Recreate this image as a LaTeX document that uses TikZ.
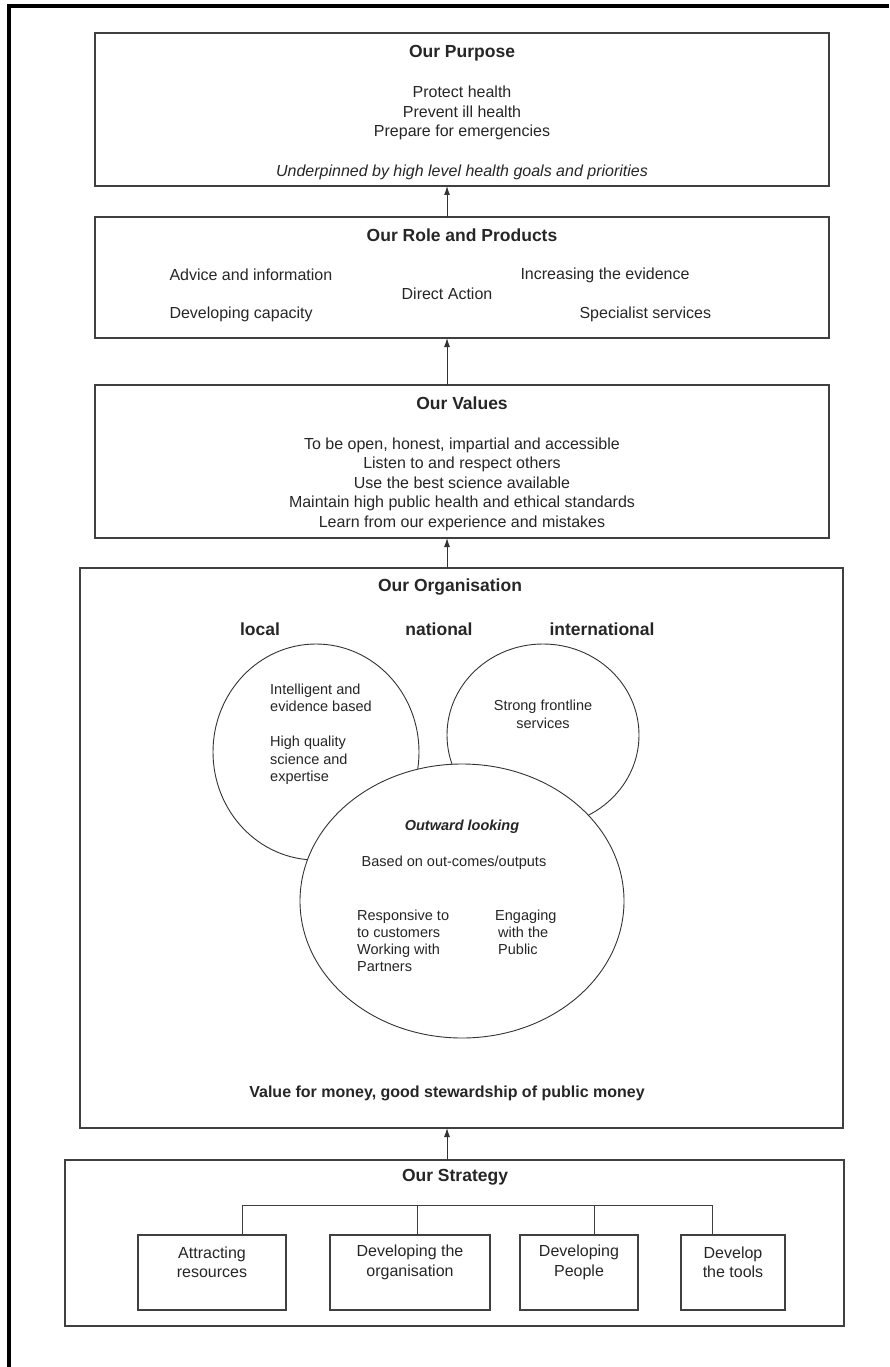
\documentclass[tikz,border=0pt]{standalone}
\usepackage{fontspec}
\setmainfont{Liberation Sans}
\usetikzlibrary{shapes.geometric,arrows.meta}

\tikzset{
  panel/.style={draw=black!75, line width=1.1pt, anchor=north west, inner sep=0pt, outer sep=0pt},
  head/.style={font=\fontsize{17.5}{20}\selectfont\bfseries, text=black!85},
  body/.style={font=\fontsize{16}{19.5}\selectfont, text=black!85, align=center},
  small/.style={font=\fontsize{14.5}{17.5}\selectfont, text=black!85, inner sep=0pt},
  blob/.style={ellipse, draw=black!80, line width=0.9pt, fill=white, inner sep=0pt},
  stratbox/.style={draw=black!75, line width=1.1pt, anchor=north west, inner sep=0pt, outer sep=0pt, minimum height=75pt}
}

\begin{document}
\begin{tikzpicture}[x=1pt, y=-1pt, >={Latex[length=9pt,width=6pt]}]
\useasboundingbox (0,0) rectangle (889,1367);
\draw[line width=4pt] (9,1367) -- (9,6) -- (889,6);

% purpose
\node (pur)[panel, minimum width=734pt, minimum height=153pt] at (95,33) {};
\node (pur1)[head] at (462,53) {Our Purpose};
\node (pur2)[body] at (462,113) {Protect health\\Prevent ill health\\Prepare for emergencies};
\node (pur3)[body, font=\fontsize{16}{19.5}\selectfont\itshape] at (462,172) {Underpinned by high level health goals and priorities};

% role and products
\node (role)[panel, minimum width=734pt, minimum height=121pt] at (95,217) {};
\node (role1)[head] at (462,235) {Our Role and Products};
\node (role2)[body, anchor=west] at (166,275) {Advice and information};
\node (role3)[body, anchor=west] at (517,275) {Increasing the evidence};
\node (role4)[body] at (447,294) {Direct Action};
\node (role5)[body, anchor=west] at (166,314) {Developing capacity};
\node (role6)[body, anchor=west] at (576,314) {Specialist services};

% values
\node (val)[panel, minimum width=734pt, minimum height=153pt] at (95,385) {};
\node (val1)[head] at (462,403) {Our Values};
\node (val2)[body] at (462,484) {To be open, honest, impartial and accessible\\Listen to and respect others\\Use the best science available\\Maintain high public health and ethical standards\\Learn from our experience and mistakes};

% organisation
\node (orgn)[panel, minimum width=763pt, minimum height=560pt] at (80,568) {};
\node (orgn1)[head] at (450,587) {Our Organisation};
\node (lvl1)[head] at (260,629) {local};
\node (lvl2)[head] at (439,629) {national};
\node (lvl3)[head] at (602,629) {international};
\node (loc)[blob, minimum width=206pt, minimum height=216pt] at (316,752) {};
\node (intl)[blob, minimum width=192pt, minimum height=182pt] at (543,735) {};
\node (out)[blob, minimum width=324pt, minimum height=274pt] at (462,901) {};
\node (loc1)[small, align=left, anchor=west] at (270,734) {Intelligent and\\evidence based\\[17.5pt]High quality\\science and\\expertise};
\node (intl1)[small, align=center] at (543,714.5) {Strong frontline\\services};
\node (out1)[small, font=\fontsize{14.5}{17.5}\selectfont\bfseries\itshape] at (462,827) {Outward looking};
\node (out2)[small] at (454,863) {Based on out-comes/outputs};
\node (out3)[small, align=left, anchor=west, font=\fontsize{14.5}{17}\selectfont] at (357,940.5) {Responsive to\\to customers\\Working with\\Partners};
\node (out4)[small, align=left, anchor=west, font=\fontsize{14.5}{17}\selectfont] at (495,932) {Engaging\\\hspace{3pt}with the\\\hspace{3pt}Public};
\node (orgn2)[head, font=\fontsize{16}{19}\selectfont\bfseries] at (447,1093) {Value for money, good stewardship of public money};

% strategy
\node (strat)[panel, minimum width=779pt, minimum height=166pt] at (65,1160) {};
\node (strat1)[head] at (455,1177) {Our Strategy};
\node (att)[stratbox, minimum width=148pt] at (138,1235) {};
\node (dvo)[stratbox, minimum width=160pt] at (330,1235) {};
\node (dvp)[stratbox, minimum width=118pt] at (520,1235) {};
\node (dvt)[stratbox, minimum width=104pt] at (681,1235) {};
\node (att1)[body] at ([yshift=10pt]att.center) {Attracting\\resources};
\node (dvo1)[body] at ([yshift=10pt]dvo.center) {Developing the\\organisation};
\node (dvp1)[body] at ([yshift=10pt]dvp.center) {Developing\\People};
\node (dvt1)[body] at ([yshift=10pt]dvt.center) {Develop\\the tools};

\coordinate (ax) at (447,0);
\coordinate (b1) at (242,1205);
\coordinate (b2) at (417,1205);
\coordinate (b3) at (594,1205);
\coordinate (b4) at (712,1205);

\draw[->, line width=0.9pt, black!80] (role.north -| ax) -- (pur.south -| ax);
\draw[->, line width=0.9pt, black!80] (val.north -| ax) -- (role.south -| ax);
\draw[->, line width=0.9pt, black!80] (orgn.north -| ax) -- (val.south -| ax);
\draw[->, line width=0.9pt, black!80] (strat.north -| ax) -- (orgn.south -| ax);

\draw[line width=0.9pt, black!75] (b1) -- (b4)
      (b1) -- (b1 |- att.north)
      (b2) -- (b2 |- dvo.north)
      (b3) -- (b3 |- dvp.north)
      (b4) -- (b4 |- dvt.north);
\end{tikzpicture}
\end{document}
